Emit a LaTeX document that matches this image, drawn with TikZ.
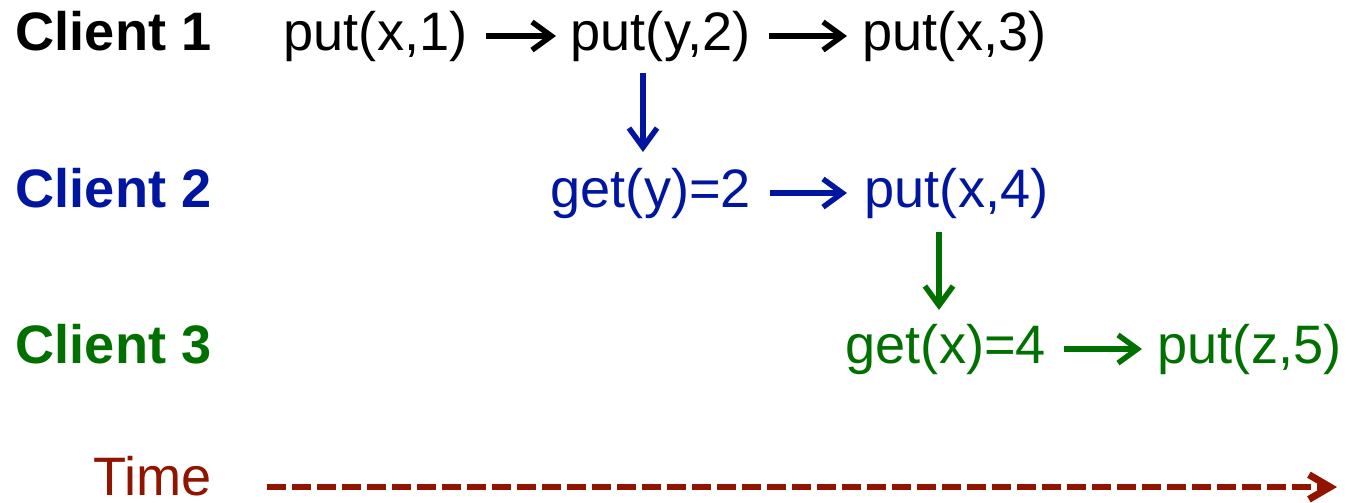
\documentclass[tikz,border=0pt]{standalone}
\usepackage{fontspec}
\setmainfont{Liberation Sans}
\usetikzlibrary{arrows.meta,calc}
\definecolor{cblue}{RGB}{0,22,160}
\definecolor{cgreen}{RGB}{0,112,0}
\definecolor{cred}{RGB}{145,20,0}
\tikzset{
  op/.style={anchor=base west,inner sep=0pt,font=\fontsize{15.4}{18}\selectfont},
  client/.style={op,font=\fontsize{15.4}{18}\selectfont\bfseries},
  arr/.style={line width=1.55pt,-{Straight Barb[length=5.5pt,width=8pt,line width=1.55pt]}},
  timearr/.style={line width=1.8pt,dash pattern=on 0.19cm off 0.06cm,
    -{Straight Barb[length=6pt,width=7pt,line width=2pt]}}
}
\begin{document}
\begin{tikzpicture}[x=0.01cm,y=-0.01cm]
\useasboundingbox (0,0) rectangle (1348,502);

% client labels
\node[client] (c1) at (15,50) {Client 1};
\node[client,text=cblue] (c2) at (15,207) {Client 2};
\node[client,text=cgreen] (c3) at (15,363) {Client 3};
\node[op,text=cred] (time) at (93,495) {Time};

% client 1 operations
\node[op] (a1) at (283,50) {put(x,1)};
\node[op] (a2) at (570,50) {put(y,2)};
\node[op] (a3) at (862,50) {put(x,3)};

% client 2 operations
\node[op,text=cblue] (b1) at (550,207) {get(y)=2};
\node[op,text=cblue] (b2) at (864,207) {put(x,4)};

% client 3 operations
\node[op,text=cgreen] (g1) at (845,363) {get(x)=4};
\node[op,text=cgreen] (g2) at (1157,363) {put(z,5)};

% program order within each client
\draw[arr] ([xshift=0.18cm]a1.east) -- ([xshift=-0.14cm]a2.west);
\draw[arr] ([xshift=0.18cm]a2.east) -- ([xshift=-0.15cm]a3.west);
\draw[arr,cblue] ([xshift=0.18cm]b1.east) -- ([xshift=-0.17cm]b2.west);
\draw[arr,cgreen] ([xshift=0.17cm]g1.east) -- ([xshift=-0.15cm]g2.west);

% reads-from dependencies
\draw[arr,cblue] ($(a2.base west)+(73,23)$) -- ($(b1.base west)+(93,-55)$);
\draw[arr,cgreen] ($(b2.base west)+(75,25)$) -- ($(g1.base west)+(94,-53)$);

% time axis
\coordinate (tend) at (1337,487);
\draw[timearr,cred] ($(time.base east)+(54,-8)$) -- (tend);
\end{tikzpicture}
\end{document}
